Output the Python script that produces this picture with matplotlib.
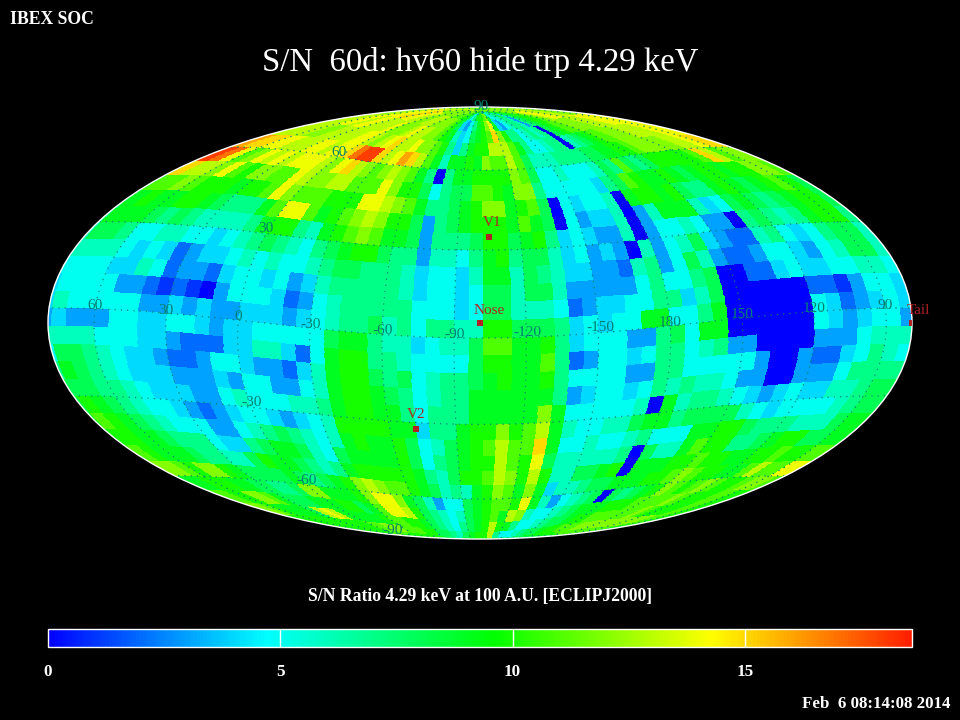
# IBEX S/N sky map, mollweide centred on the nose direction
import numpy as np
import matplotlib
matplotlib.use('Agg')
import matplotlib.pyplot as plt
from matplotlib.colors import LinearSegmentedColormap

# S/N per 6x6 deg cell, one base-20 digit each (a=10 ... i=18)
# rows run from lat 90 down to -90, columns left to right on the map
SN_ROWS = [
    "bbcccdddcc ccccccccbb bbaa97579a abc9656678 747899abcc ccccccbbbb",
    "ccddeeeffe eddccdddcc ccba843579 ace9435677 63789aabcd eeedddcccc",
    "dddeedeedd ddecccdedd ccba964589 abfca77567 67089abbcc ccdddeeeee",
    "ddddccdddd deedcdefdd eccba7479a adddb97556 7706789abb cccddddeee",
    "gffeedddee deefhiifde gfdb9699a9 cbbdb86667 7778899aab cccccddeff",
    "ihebcedede eedcefdcbc dcb970799a aaacb85565 55687b878a aaaabfdbcc",
    "fddcebaccb bedccddbbb ecaa85788b ba9cc75555 5478ba99a9 89aa9aaccb",
    "bbcbaaa9aa becbbbaaae edcb97789a cc9ab80545 5609aa9a87 79a989aba8",
    "9a99aa9877 79beeb9abc dcaa83789a aa9b980534 4603699964 5898789aa8",
    "9998787666 679aa769ab cb99837778 aa89a74543 3603556533 0787679aa7",
    "8875566554 5678765789 aa87736657 9a78864534 3063568432 2675457886",
    "6665454234 4565655678 8777645546 9968764433 2673586322 3554356886",
    "5554465233 2455453467 7777645545 8868863333 3575578002 2454455665",
    "5555332121 0355542356 7777755545 8866652344 5577468000 0002213554",
    "6555553343 4334443456 7786757766 aa88874545 5995579000 0005423454",
    "4333554455 4344555558 9976645668 bb99a74555 3378599000 0005434553",
    "6665554432 2244664259 aa77655558 aa99b72355 4577567330 0003335666",
    "8876544322 3554332469 aa87856778 9a99a75555 3377555553 0032245765",
    "9876544433 3435533569 aa98756779 9999973455 4576766533 0033357777",
    "8877654443 3565556679 aa99757779 9999c95555 5609677654 3454466788",
    "a987655432 345543456a aaa994779a acabd96556 6899788886 5455556788",
    "ba98765553 3567876569 a99a85689a bdbbf95565 56755599aa 8777666899",
    "aa99877754 4789986589 999a85789a adbae86666 6708669baa 7789aa8899",
    "ba99987766 8a9987679a aaaa9768aa bdcada6688 9a0999aaba a99aabaabb",
    "ccbacca988 8898789acd cbba986769 acb9c94667 88999aabcb aa99bdbbee",
    "99aaa99887 78cc999ace ec98635589 abbae96356 7808789acb abcbaabccb",
    "bbaaccb988 8999aa89be eda8765689 ab9dc65567 8999aaabbb bcbaaabbaa",
    "ccba99998d ed99999abb aa98765789 ada9755678 89aabbbbbb cbaaaabbaa",
    "aaaaaaaaaa aaabbcccbb baa887689a ad75567889 aabbbccccc ccccccbbaa",
    "aaaaaaaaaa aaaabbbbaa aaaa987899 aa8778899a aaabbbbbbb bbbbbbaaaa",
]

LON_TICKS = [60, 30, 0, -30, -60, -90, -120, -150, 180, 150, 120, 90]
LON_X = [95, 166, 238, 311, 383, 455, 527, 600, 670, 742, 814, 885]
LON_Y = [305, 310, 316, 325, 331, 334, 333, 328, 323, 314, 309, 305]
LAT_TICKS = [90, 60, 30, -30, -60, -90]
LAT_X = [481, 339, 266, 252, 307, 393]
LAT_Y = [107, 153, 229, 403, 481, 530]

# ecliptic positions of the named directions
NAMES = ['Nose', 'V1', 'V2', 'Tail']
NAME_LON = [-100.75, -105.0, -71.8, 79.4]
NAME_LAT = [5.1, 34.7, -32.3, -5.1]
NAME_X = [489, 492, 416, 918]
NAME_Y = [311, 222, 415, 310]

CENTER_LON = -100.75
CENTER_LAT = 5.1
CELL = 6.0
VMAX = 18.6
BG = 'black'
TEAL = '#008070'
RED = '#b22222'

rows = [r.replace(' ', '') for r in SN_ROWS]
for i, r in enumerate(rows):
    if len(r) != 60:
        print('row', i, 'has', len(r))
        rows[i] = (r + r[-1] * 60)[:60]
sn = np.array([[int(c, 20) for c in r] for r in rows], dtype=float)


def to_map(lon, lat):
    # ecliptic degrees to radians on the map
    d = np.radians(CENTER_LON - np.asarray(lon))
    la = np.radians(lat)
    x, y, z = np.cos(la) * np.cos(d), np.cos(la) * np.sin(d), np.sin(la)
    c, s = np.cos(np.radians(CENTER_LAT)), np.sin(np.radians(CENTER_LAT))
    xr = x * c + z * s
    zr = -x * s + z * c
    return np.arctan2(y, xr), np.arcsin(np.clip(zr, -1, 1))


def from_map(lam, phi):
    # map radians back to (offset from centre lon, lat) in degrees
    x, y, z = np.cos(phi) * np.cos(lam), np.cos(phi) * np.sin(lam), np.sin(phi)
    c, s = np.cos(np.radians(CENTER_LAT)), np.sin(np.radians(CENTER_LAT))
    xe = x * c - z * s
    ze = x * s + z * c
    return np.degrees(np.arctan2(y, xe)), np.degrees(np.arcsin(np.clip(ze, -1, 1)))


def px(x, y):
    return x / 960, 1 - y / 720


cmap = LinearSegmentedColormap.from_list('sn', [
    (0, (0, 0, 1)),
    (4.7 / VMAX, (0, 1, 1)),
    (9.6 / VMAX, (0, 1, 0)),
    (14.3 / VMAX, (1, 1, 0)),
    (1, (1, 0.12, 0)),
], N=256)

fig = plt.figure(figsize=(9.6, 7.2), dpi=100, facecolor=BG)
plt.rcParams['font.family'] = ['Liberation Serif', 'DejaVu Serif']

ax = fig.add_axes([48 / 960, (720 - 539) / 720, 864 / 960, 432 / 720], projection='mollweide')
ax.set_facecolor(BG)
ax.grid(False)
ax.set_xticklabels([])
ax.set_yticklabels([])
ax.spines['geo'].set_edgecolor('white')
ax.spines['geo'].set_linewidth(1.0)

# fine mesh on the map, each quad takes the value of the sky cell under it
lam_edges = np.radians(np.linspace(-180, 180, 1081))
phi_edges = np.radians(np.linspace(-89.9, 89.9, 541))
lam_mid = 0.5 * (lam_edges[1:] + lam_edges[:-1])
phi_mid = 0.5 * (phi_edges[1:] + phi_edges[:-1])
LL, PP = np.meshgrid(lam_mid, phi_mid)
off, lat = from_map(LL, PP)
col = np.floor((off + 178.75) / CELL).astype(int) % 60
row = np.clip(np.floor((90 - lat) / CELL).astype(int), 0, 29)
mesh = ax.pcolormesh(lam_edges, phi_edges, sn[row, col], cmap=cmap, vmin=0, vmax=VMAX,
                     shading='flat', antialiased=False, linewidth=0, rasterized=True)

# graticule
for lon0 in range(-180, 180, 30):
    la = np.linspace(-90, 90, 361)
    m_l, m_p = to_map(np.full_like(la, lon0), la)
    m_l = np.where(np.abs(np.diff(m_l, prepend=m_l[0])) > 1.0, np.nan, m_l)
    ax.plot(m_l, m_p, color=TEAL, lw=0.9, ls=(0, (1, 4)))
for lat0 in [-60, -30, 0, 30, 60]:
    lo = np.linspace(-180, 180, 721)
    m_l, m_p = to_map(lo, np.full_like(lo, lat0))
    m_l = np.where(np.abs(np.diff(m_l, prepend=m_l[0])) > 1.0, np.nan, m_l)
    ax.plot(m_l, m_p, color=TEAL, lw=0.9, ls=(0, (1, 4)))

for v, x, y in zip(LON_TICKS, LON_X, LON_Y):
    fig.text(*px(x, y), str(v), color=TEAL, fontsize=11, ha='center', va='center')
for v, x, y in zip(LAT_TICKS, LAT_X, LAT_Y):
    fig.text(*px(x, y), str(v), color=TEAL, fontsize=11, ha='center', va='center')

m_l, m_p = to_map(NAME_LON, NAME_LAT)
ax.scatter(m_l, m_p, marker='s', s=14, color=RED, linewidths=0, zorder=5, clip_on=True)
for n, x, y in zip(NAMES, NAME_X, NAME_Y):
    fig.text(*px(x, y), n, color=RED, fontsize=11, ha='center', va='center')

# colour bar
cax = fig.add_axes([48 / 960, (720 - 647) / 720, 864 / 960, 18 / 720])
cb = fig.colorbar(mesh, cax=cax, orientation='horizontal')
cb.solids.set_rasterized(True)
cb.outline.set_edgecolor('white')
cb.outline.set_linewidth(1.0)
cb.set_ticks([0, 5, 10, 15])
cax.tick_params(axis='x', length=0, pad=12, labelcolor='white', labelsize=12.3)
for t in cax.get_xticklabels():
    t.set_fontweight('bold')
for v in [5, 10, 15]:
    cax.axvline(v, color='white', lw=1)

fig.text(*px(480, 62), 'S/N  60d: hv60 hide trp 4.29 keV', color='white', fontsize=23.6,
         ha='center', va='center')
fig.text(*px(10, 19), 'IBEX SOC', color='white', fontsize=12.7, ha='left', va='center', fontweight='bold')
fig.text(*px(480, 597), 'S/N Ratio 4.29 keV at 100 A.U. [ECLIPJ2000]', color='white', fontsize=12.7,
         ha='center', va='center', fontweight='bold')
fig.text(*px(950, 704), 'Feb  6 08:14:08 2014', color='white', fontsize=12.2, ha='right', va='center',
         fontweight='bold')

fig.savefig('out.png', dpi=100, facecolor=BG)
